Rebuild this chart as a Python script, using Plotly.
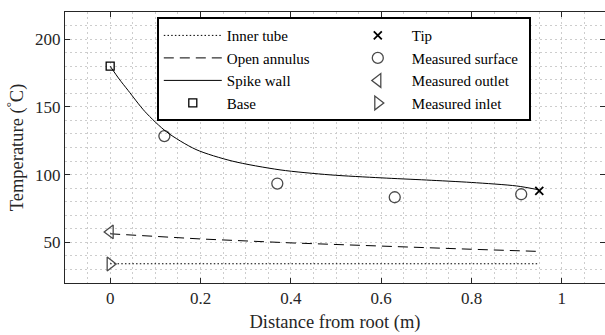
import plotly.graph_objects as go

# ---- data ----
wall_x = [0, 0.02, 0.04, 0.077, 0.125, 0.19, 0.27, 0.376, 0.487, 0.6, 0.7, 0.8, 0.9, 0.95]
wall_y = [180, 170.5, 162, 146.5, 131.5, 118.5, 110, 103.5, 99.8, 97.6, 96, 94.2, 91.6, 88.7]

annulus_x = [0, 0.1, 0.2, 0.4, 0.6, 0.8, 0.95]
annulus_y = [56.3, 54.3, 52.5, 49.6, 47.0, 44.9, 43.3]

inner_x = [0, 0.95]
inner_y = [34.2, 34.2]

base_x = [0]
base_y = [180]

tip_x = [0.95]
tip_y = [88]

surf_x = [0.12, 0.37, 0.63, 0.91]
surf_y = [128.4, 93.4, 83.3, 85.5]

outlet_x = [0]
outlet_y = [57.7]

inlet_x = [0]
inlet_y = [34.0]

x_ticks = [0, 0.2, 0.4, 0.6, 0.8, 1]
x_tick_text = ["0", "0.2", "0.4", "0.6", "0.8", "1"]
y_ticks = [50, 100, 150, 200]
y_tick_text = ["50", "100", "150", "200"]

FONT = "Liberation Serif"
AX = "#262626"
MK = "#4a4a4a"

fig = go.Figure()

# order chosen so a 2-column horizontal legend reads column-wise like the reference
fig.add_trace(go.Scatter(x=inner_x, y=inner_y, mode="lines", name="Inner tube",
                         line=dict(color="black", width=1, dash="1.5px,2.2px")))
fig.add_trace(go.Scatter(x=tip_x, y=tip_y, mode="markers", name="Tip",
                         marker=dict(symbol="x-thin-open", size=8, color="black",
                                     line=dict(color="black", width=1.8))))
fig.add_trace(go.Scatter(x=annulus_x, y=annulus_y, mode="lines", name="Open annulus",
                         line=dict(color="black", width=1, dash="10px,6px")))
fig.add_trace(go.Scatter(x=surf_x, y=surf_y, mode="markers", name="Measured surface",
                         marker=dict(symbol="circle-open", size=11, color=MK,
                                     line=dict(color=MK, width=1.3))))
fig.add_trace(go.Scatter(x=wall_x, y=wall_y, mode="lines", name="Spike wall",
                         line=dict(color="black", width=1, shape="spline", smoothing=0.8)))
fig.add_trace(go.Scatter(x=outlet_x, y=outlet_y, mode="markers", name="Measured outlet",
                         marker=dict(symbol="triangle-left-open", size=12, color=MK,
                                     line=dict(color=MK, width=1.3))))
fig.add_trace(go.Scatter(x=base_x, y=base_y, mode="markers", name="Base",
                         marker=dict(symbol="square-open", size=8, color="black",
                                     line=dict(color="black", width=1.3))))
fig.add_trace(go.Scatter(x=inlet_x, y=inlet_y, mode="markers", name="Measured inlet",
                         marker=dict(symbol="triangle-right-open", size=12, color=MK,
                                     line=dict(color=MK, width=1.3))))

grid = dict(showgrid=True, gridcolor="#cdcdcd", griddash="1.5px,3.5px", gridwidth=1)

fig.update_layout(
    width=605, height=335,
    margin=dict(l=65, r=0, t=12, b=52),
    paper_bgcolor="white", plot_bgcolor="white",
    font=dict(family=FONT, size=17, color=AX),
    legend=dict(
        orientation="h",
        x=0.17, xanchor="left", y=0.981, yanchor="top",
        bgcolor="white", bordercolor="black", borderwidth=2,
        font=dict(family=FONT, size=15, color="black"),
        itemwidth=58, entrywidth=112, entrywidthmode="pixels",
        traceorder="normal",
    ),
    xaxis=dict(
        range=[-0.1, 1.0955], tickvals=x_ticks, ticktext=x_tick_text,
        ticks="inside", ticklen=5, tickcolor=AX, tickwidth=1,
        tickfont=dict(family=FONT, size=17, color=AX),
        showline=True, linecolor=AX, linewidth=1, mirror="ticks",
        zeroline=False,
        title=dict(text="Distance from root (m)", font=dict(family=FONT, size=18.5, color=AX), standoff=7),
        minor=dict(dtick=0.05, tick0=0, **grid),
        **grid,
    ),
    yaxis=dict(
        range=[20, 220], tickvals=y_ticks, ticktext=y_tick_text,
        ticks="inside", ticklen=5, tickcolor=AX, tickwidth=1,
        tickfont=dict(family=FONT, size=17, color=AX),
        showline=True, linecolor=AX, linewidth=1, mirror="ticks",
        zeroline=False,
        title=dict(text="Temperature (<sup>°</sup>C)", font=dict(family=FONT, size=18.5, color=AX), standoff=6),
        minor=dict(dtick=10, tick0=0, **grid),
        **grid,
    ),
)

fig.write_html("out.html")
